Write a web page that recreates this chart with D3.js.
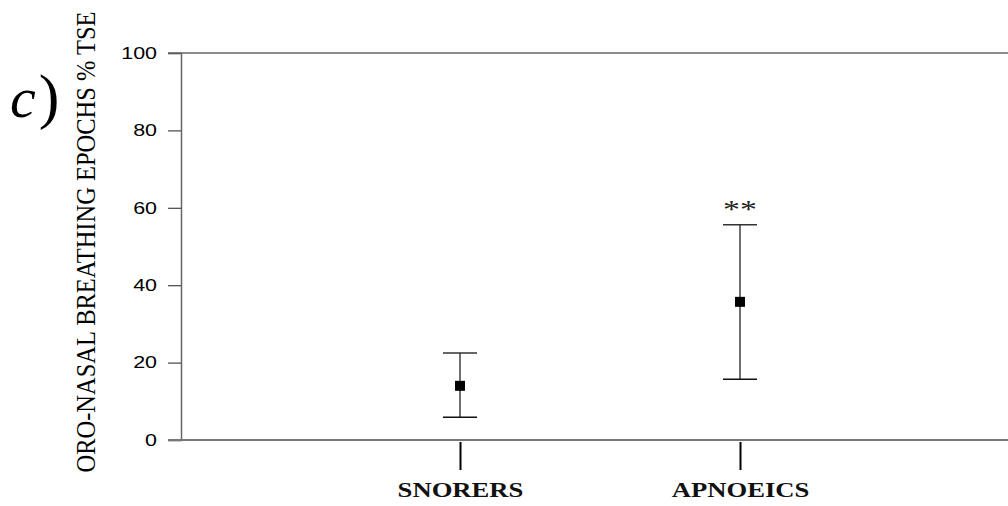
<!DOCTYPE html>
<html>
<head>
<meta charset="utf-8">
<script src="https://cdn.jsdelivr.net/npm/d3@7"></script>
<style>
  body { margin: 0; background: #fff; }
  svg { display: block; }
</style>
</head>
<body>
<svg id="chart" width="1008" height="506"></svg>
<script>
// data
const groups = ['SNORERS', 'APNOEICS']
const means = [14.0, 35.7]
const upper = [22.5, 55.6]
const lower = [5.9, 15.7]
const marks = ['', '**']
const yTicks = [0, 20, 40, 60, 80, 100]

const svg = d3.select('#chart')
const plotLeft = 181, plotRight = 1008, plotTop = 53, plotBottom = 440
const stretch = 1.3 // the original scan is wider than tall, text looks stretched sideways
const serif = '"Liberation Serif", "Times New Roman", Times, serif'

const y = d3.scaleLinear().domain([0, 100]).range([plotBottom, plotTop])
const x = d3.scalePoint().domain(groups).range([460, 740])

// y axis
const yAxis = svg.append('g')
  .attr('transform', 'translate(' + plotLeft + ',0)')
  .call(d3.axisLeft(y).tickValues(yTicks).tickSize(13))
yAxis.select('.domain').attr('stroke', '#666').attr('stroke-width', 1.5)
yAxis.selectAll('.tick line').attr('stroke', '#444').attr('stroke-width', 1.2)
yAxis.selectAll('.tick text')
  .attr('x', -24 / stretch)
  .attr('transform', 'scale(' + stretch + ',1)')
  .style('font-family', 'Arial, "Liberation Sans", sans-serif')
  .style('font-size', '16.5px')
  .attr('fill', '#000')

// top and bottom frame lines
svg.append('line')
  .attr('x1', plotLeft - 13).attr('x2', plotRight)
  .attr('y1', y(100)).attr('y2', y(100))
  .attr('stroke', '#666').attr('stroke-width', 1.5)
svg.append('line')
  .attr('x1', plotLeft - 13).attr('x2', plotRight)
  .attr('y1', y(0)).attr('y2', y(0))
  .attr('stroke', '#777').attr('stroke-width', 2)

// x axis: ticks hang below the baseline
const xAxis = svg.append('g')
  .attr('transform', 'translate(0,' + (plotBottom + 2) + ')')
  .call(d3.axisBottom(x).tickSize(28))
xAxis.select('.domain').remove()
xAxis.selectAll('.tick line').attr('stroke', '#000').attr('stroke-width', 2)
xAxis.selectAll('.tick text')
  .attr('y', 55).attr('dy', 0)
  .attr('transform', 'scale(' + stretch + ',1)')
  .style('font-family', serif)
  .style('font-weight', 'bold')
  .style('font-size', '20.5px')
  .attr('fill', '#111')

// error bars
const bars = svg.append('g').selectAll('g').data(groups).enter().append('g')
bars.append('line')
  .attr('x1', d => x(d)).attr('x2', d => x(d))
  .attr('y1', (d, i) => y(upper[i])).attr('y2', (d, i) => y(lower[i]))
  .attr('stroke', '#222').attr('stroke-width', 1.3)
bars.append('line')
  .attr('x1', d => x(d) - 17).attr('x2', d => x(d) + 17)
  .attr('y1', (d, i) => y(upper[i])).attr('y2', (d, i) => y(upper[i]))
  .attr('stroke', '#333').attr('stroke-width', 1.5)
bars.append('line')
  .attr('x1', d => x(d) - 17).attr('x2', d => x(d) + 17)
  .attr('y1', (d, i) => y(lower[i])).attr('y2', (d, i) => y(lower[i]))
  .attr('stroke', '#111').attr('stroke-width', 1.5)
bars.append('rect')
  .attr('x', d => x(d) - 5).attr('y', (d, i) => y(means[i]) - 5)
  .attr('width', 10).attr('height', 10)
  .attr('fill', '#000')
bars.append('text')
  .attr('transform', (d, i) => 'translate(' + x(d) + ',' + (y(upper[i]) - 7) + ') scale(' + stretch + ',1)')
  .attr('text-anchor', 'middle')
  .style('font-family', serif)
  .style('font-size', '26px')
  .attr('fill', '#222')
  .text((d, i) => marks[i])

// y axis title
svg.append('text')
  .attr('transform', 'translate(95,242) rotate(-90) scale(1,' + stretch + ')')
  .attr('text-anchor', 'middle')
  .style('font-family', serif)
  .style('font-size', '21px')
  .attr('textLength', 461)
  .attr('lengthAdjust', 'spacingAndGlyphs')
  .attr('fill', '#000')
  .text('ORO-NASAL BREATHING EPOCHS % TSE')

// panel letter: italic c, upright tall paren
const panel = svg.append('text')
  .attr('x', 10).attr('y', 117)
  .style('font-family', serif)
  .attr('fill', '#000')
panel.append('tspan')
  .style('font-style', 'italic')
  .style('font-size', '58px')
  .text('c')
panel.append('tspan')
  .attr('dx', 3)
  .style('font-size', '62px')
  .text(')')
</script>
</body>
</html>
